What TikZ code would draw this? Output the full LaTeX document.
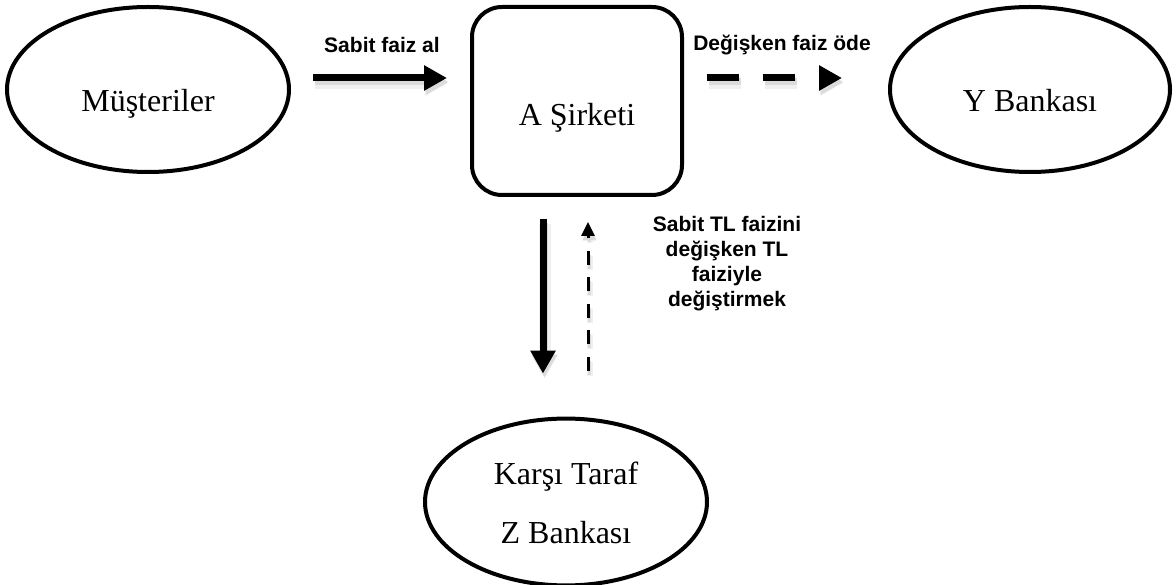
\documentclass[tikz,border=0pt]{standalone}
\usepackage{fontspec}
\setmainfont{Liberation Serif}
\setsansfont{Liberation Sans}
\usetikzlibrary{shapes.geometric,arrows.meta}
\begin{document}
\begin{tikzpicture}[x=1pt,y=-1pt,
  oval/.style={ellipse, draw, line width=4pt, inner sep=0pt,
    minimum width=282pt, minimum height=165pt,
    font=\fontsize{32}{38}\selectfont},
  oneline/.style={text height=22pt, text depth=0pt},
  firm/.style={rectangle, rounded corners=30pt, draw, line width=4pt,
    minimum width=210pt, minimum height=188pt, inner sep=0pt,
    font=\fontsize{32}{38}\selectfont},
  lab/.style={font=\fontsize{21}{25}\selectfont\sffamily\bfseries,
    align=center, inner sep=0pt},
  bigarrow/.style={line width=7pt, -{Triangle[length=23pt,width=24pt]}},
  bigdash/.style={bigarrow, dash pattern=on 32pt off 24pt},
  thindash/.style={line width=3pt, dash pattern=on 14pt off 12.5pt,
    -{Triangle[length=14pt,width=13pt]}},
  shadowcopy/.style={transform canvas={shift={(1.5pt,-4pt)}}, color=black!14},
  softshadow/.style={transform canvas={shift={(1.5pt,-5pt)}}, color=black!6}
]
\useasboundingbox (0,0) rectangle (1176,585);

% nodes
\node[oval, oneline] (mus) at (148,89.5) {\raisebox{-10.6pt}{Müşteriler}};
\node[oval, oneline, minimum width=280pt] (yb) at (1030,89.5) {\raisebox{-10.6pt}{Y Bankası}};
\node[firm, oneline] (box) at (577,101) {\raisebox{-14pt}{A Şirketi}};
\node[oval, minimum height=160pt, font=\fontsize{32}{59}\selectfont] (zb) at (566,502)
  {\raisebox{-8pt}{\begin{tabular}{@{}c@{}}Karşı Taraf\\Z Bankası\end{tabular}}};

% labels
\node[lab] (l1) at (382,45) {Sabit faiz al};
\node[lab] (l2) at (782,45) {Değişken faiz öde};
\node[lab] (l3) at (727,264) {Sabit TL faizini\\değişken TL\\faiziyle\\değiştirmek};

% helper coordinates
\coordinate (hy) at (0,78);
\coordinate (vx1) at (543,0);
\coordinate (vx2) at (588,0);

% soft outer shadows
\begin{scope}[softshadow]
\draw[bigarrow, line width=12pt, shorten <=22pt, shorten >=23pt] (mus.east |- hy) -- (box.west |- hy);
\draw[bigdash, line width=12pt, shorten <=23pt, shorten >=46pt] (box.east |- hy) -- (yb.west |- hy);
\draw[bigarrow, line width=12pt, shorten <=22pt, shorten >=43pt] (box.south -| vx1) -- (zb.north -| vx1);
\draw[thindash, line width=6pt, shorten <=46pt, shorten >=25pt] (zb.north -| vx2) -- (box.south -| vx2);
\end{scope}
% inner shadows
\begin{scope}[shadowcopy]
\draw[bigarrow, shorten <=22pt, shorten >=23pt] (mus.east |- hy) -- (box.west |- hy);
\draw[bigdash, shorten <=23pt, shorten >=46pt] (box.east |- hy) -- (yb.west |- hy);
\draw[bigarrow, shorten <=22pt, shorten >=43pt] (box.south -| vx1) -- (zb.north -| vx1);
\draw[thindash, shorten <=46pt, shorten >=25pt] (zb.north -| vx2) -- (box.south -| vx2);
\end{scope}

% connectors
\draw[bigarrow, shorten <=22pt, shorten >=23pt] (mus.east |- hy) -- (box.west |- hy);
\draw[bigdash, shorten <=23pt, shorten >=46pt] (box.east |- hy) -- (yb.west |- hy);
\draw[bigarrow, shorten <=22pt, shorten >=43pt] (box.south -| vx1) -- (zb.north -| vx1);
\draw[thindash, shorten <=46pt, shorten >=25pt] (zb.north -| vx2) -- (box.south -| vx2);
\end{tikzpicture}
\end{document}
